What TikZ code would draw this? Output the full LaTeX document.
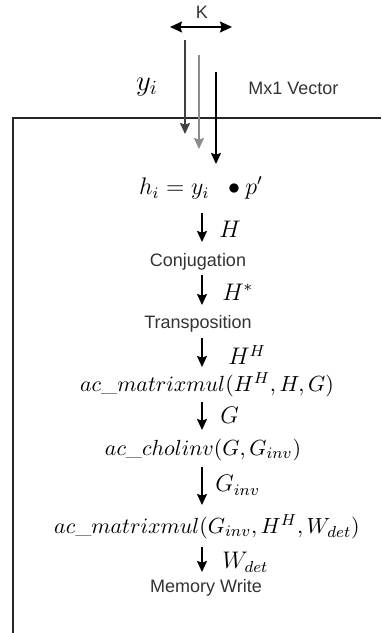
\documentclass[tikz,border=0pt]{standalone}
\usepackage{fontspec}
\setsansfont{Liberation Sans}
\usetikzlibrary{arrows.meta}

\begin{document}
\begin{tikzpicture}[
  x=0.5pt, y=-0.5pt,
  flow/.style={draw=black, line width=0.8pt, -{Stealth[length=5.5pt, width=5pt, inset=0.8pt]}},
  both/.style={draw=black, line width=0.8pt,
    {Stealth[length=6pt, width=5.5pt, inset=0.8pt]}-{Stealth[length=6pt, width=5.5pt, inset=0.8pt]}},
  frame/.style={draw=black!85, line width=0.7pt},
  caption/.style={font=\sffamily\fontsize{9}{11}\selectfont, text=black!80,
    inner sep=0pt},
  eqn/.style={font=\fontsize{11}{13}\selectfont, inner sep=0pt},
  sym/.style={font=\fontsize{11.5}{14}\selectfont, inner sep=0pt, anchor=west}
]
  \useasboundingbox (0,0) rectangle (381,633);

  % Input.
  \node[caption] (k) at (202,12) {K};
  \coordinate (kl) at (170,27);
  \coordinate (kr) at (232,27);
  \draw[both] (kl) -- (kr);
  \node[font=\fontsize{14}{16}\selectfont, inner sep=0pt] (y) at (147,87) {$y_i$};
  \node[caption, anchor=west] (vec) at (248,88) {Mx1 Vector};

  % Frame.
  \coordinate (fr) at (381,118);
  \coordinate (ftl) at (13,118);
  \coordinate (fbl) at (13,633);
  \draw[frame] (fr) -- (ftl) -- (fbl);

  % Samples coming in.
  \coordinate (s1) at (185,40);
  \coordinate (e1) at (185,134);
  \coordinate (s2) at (199,55);
  \coordinate (e2) at (199,149);
  \coordinate (s3) at (216,72);
  \coordinate (e3) at (216,164);
  \draw[flow, draw=black!75] (s1) -- (e1);
  \draw[flow, draw=black!45] (s2) -- (e2);
  \draw[flow] (s3) -- (e3);

  % Processing chain.
  \node[eqn, font=\fontsize{12}{14}\selectfont] (h) at (201,188) {$h_i = y_i\;\;\bullet p'$};
  \node[caption] (conj) at (198,262) {Conjugation};
  \node[caption] (trans) at (198,324) {Transposition};
  \node[eqn] (mm1) at (207,385) {$ac\_matrixmul(H^H,H,G)$};
  \node[eqn] (chol) at (203,450) {$ac\_cholinv(G,G_{inv})$};
  \node[eqn] (mm2) at (207,527) {$ac\_matrixmul(G_{inv},H^H,W_{det})$};
  \node[caption] (mem) at (206,588) {Memory Write};

  \foreach \n/\a/\b in {1/213/242,2/275/305,3/338/367,4/402/430,5/467/505,6/547/572}{
    \coordinate (t\n) at (202,\a);
    \coordinate (b\n) at (202,\b);
    \draw[flow] (t\n) -- (b\n);
  }
  \node[sym] (lh) at (219,229) {$H$};
  \node[sym] (lhs) at (222,292) {$H^{*}$};
  \node[sym] (lhh) at (228,355) {$H^H$};
  \node[sym] (lg) at (220,415) {$G$};
  \node[sym] (lgi) at (215,485) {$G_{inv}$};
  \node[sym] (lw) at (222,562) {$W_{det}$};
\end{tikzpicture}
\end{document}
